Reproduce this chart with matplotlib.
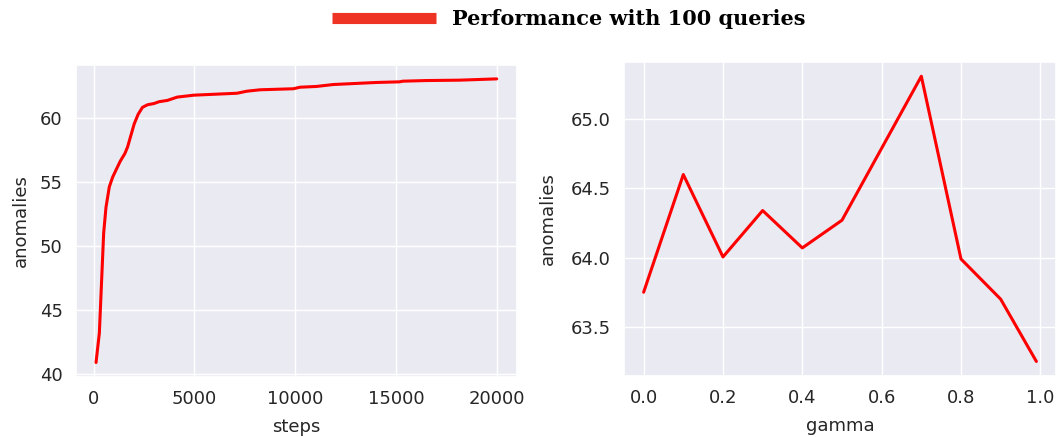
import numpy as np
import matplotlib
matplotlib.use('Agg')
import matplotlib.pyplot as plt
from matplotlib.lines import Line2D
import seaborn as sns

# left panel: anomalies found vs training steps
steps = [115, 280, 395, 494, 609, 774, 938, 1103, 1317, 1547, 1679, 1843,
         2008, 2206, 2420, 2667, 2996, 3243, 3654, 4148, 4971, 7110, 7604,
         8262, 9909, 10238, 11061, 11884, 14024, 15176, 15341, 16493, 18139, 20000]
anom_steps = [40.9, 43.2, 47.4, 51.0, 53.0, 54.6, 55.35, 55.9, 56.6, 57.2, 57.7, 58.6,
              59.5, 60.26, 60.8, 61.0, 61.1, 61.24, 61.34, 61.6, 61.75, 61.9, 62.06,
              62.17, 62.25, 62.37, 62.43, 62.58, 62.74, 62.79, 62.84, 62.89, 62.92, 63.02]

# right panel: anomalies vs gamma
gamma = [0.0, 0.1, 0.2, 0.3, 0.4, 0.5, 0.6, 0.7, 0.8, 0.9, 0.99]
anom_gamma = [63.75, 64.60, 64.005, 64.34, 64.07, 64.27, 64.79, 65.31, 63.99, 63.70, 63.25]

sns.set_theme(style='darkgrid')
plt.rcParams['font.family'] = ['DejaVu Sans']

W, H = 1059, 437
fig = plt.figure(figsize=(W / 100, H / 100), dpi=100)
ax1 = fig.add_axes([76 / W, 1 - 376.7 / H, (516.7 - 76) / W, (376.7 - 64.7) / H])
ax2 = fig.add_axes([624 / W, 1 - 375.7 / H, (1056 - 624) / W, (375.7 - 62) / H])

ax1.plot(steps, anom_steps, color='red', linewidth=2.2)
ax1.set_xlabel('steps', fontsize=13, labelpad=7)
ax1.set_ylabel('anomalies', fontsize=13, labelpad=7)
ax1.set_yticks([40, 45, 50, 55, 60])
ax1.tick_params(labelsize=13)

ax2.plot(gamma, anom_gamma, color='red', linewidth=2.2)
ax2.set_xlabel('gamma', fontsize=13, labelpad=7)
ax2.set_ylabel('anomalies', fontsize=13, labelpad=10)
ax2.set_yticks([63.5, 64.0, 64.5, 65.0])
ax2.tick_params(labelsize=13)

handle = Line2D([], [], color='#ee3224', linewidth=8, solid_capstyle='butt')
leg = fig.legend([handle], ['Performance with 100 queries'], loc='upper center',
                 bbox_to_anchor=(0.537, 1.022), frameon=False, handlelength=5.0,
                 handletextpad=0.8,
                 prop={'family': 'DejaVu Serif', 'weight': 'bold', 'size': 15})
for t in leg.get_texts():
    t.set_color('black')

plt.savefig('out.png', dpi=100)
